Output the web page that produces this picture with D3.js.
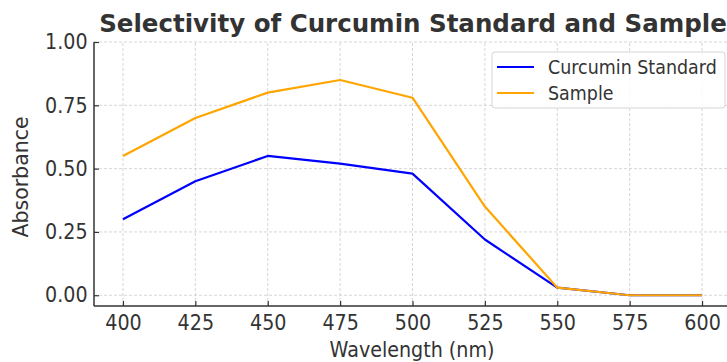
<!DOCTYPE html>
<html>
<head>
<meta charset="utf-8">
<script src="https://cdn.jsdelivr.net/npm/d3@7"></script>
<style>
  body { margin: 0; background: #fff; }
  text { font-family: "DejaVu Sans", sans-serif; }
</style>
</head>
<body>
<script>
// data
let wavelengths = [400, 425, 450, 475, 500, 525, 550, 575, 600];
let standardAbs = [0.30, 0.45, 0.55, 0.52, 0.48, 0.22, 0.03, 0.0, 0.0];
let sampleAbs   = [0.55, 0.70, 0.80, 0.85, 0.78, 0.35, 0.03, 0.0, 0.0];
let yTicks = [0, 0.25, 0.5, 0.75, 1.0];
let seriesNames = ["Curcumin Standard", "Sample"];
let seriesColors = ["#0000ff", "#ffa500"];

let width = 727;
let height = 362;
let margin = {top: 42, right: -4, bottom: 56, left: 94};
let squeeze = 0.91; // the reference text is a little narrow

let x = d3.scaleLinear()
          .domain([390, 610])
          .range([margin.left, width - margin.right]);

let y = d3.scaleLinear()
          .domain([-0.0425, 1.0])
          .range([height - margin.bottom, margin.top]);

let svg = d3.select("body")
            .append("svg")
            .attr("width", width)
            .attr("height", height);

// grid
svg.append("g")
   .selectAll("line")
   .data(wavelengths)
   .enter().append("line")
           .attr("x1", d => x(d)).attr("x2", d => x(d))
           .attr("y1", y.range()[0]).attr("y2", y.range()[1])
           .attr("stroke", "#cccccc").attr("stroke-width", 0.8)
           .attr("stroke-dasharray", "3,2");
svg.append("g")
   .selectAll("line")
   .data(yTicks)
   .enter().append("line")
           .attr("x1", x.range()[0]).attr("x2", x.range()[1])
           .attr("y1", d => y(d)).attr("y2", d => y(d))
           .attr("stroke", "#cccccc").attr("stroke-width", 0.8)
           .attr("stroke-dasharray", "3,2");

// axes, ticks pointing inward
let xAxis = svg.append("g")
               .attr("transform", `translate(0,${height - margin.bottom})`)
               .call(d3.axisBottom(x).tickValues(wavelengths).tickSize(-5).tickPadding(9));
let yAxis = svg.append("g")
               .attr("transform", `translate(${margin.left},0)`)
               .call(d3.axisLeft(y).tickValues(yTicks).tickFormat(d3.format(".2f")).tickSize(-5).tickPadding(7));

[xAxis, yAxis].forEach(function(a) {
  a.select(".domain").attr("stroke", "#333").attr("stroke-width", 1.5);
  a.selectAll(".tick line").attr("stroke", "#333").attr("stroke-width", 1.2);
  a.selectAll(".tick text").attr("fill", "#333").attr("font-size", 21)
   .attr("font-family", "DejaVu Sans")
   .attr("transform", `scale(${squeeze},1)`);
});
// remove the domain's end caps so only the spine remains
xAxis.select(".domain").attr("d", `M${x.range()[0]},0H${x.range()[1]}`);
yAxis.select(".domain").attr("d", `M0,${y.range()[0]}V${y.range()[1]}`);

// lines
let line = d3.line()
             .x((d, i) => x(wavelengths[i]))
             .y(d => y(d));

[standardAbs, sampleAbs].forEach(function(vals, k) {
  svg.append("path")
     .datum(vals)
     .attr("d", line)
     .attr("fill", "none")
     .attr("stroke", seriesColors[k])
     .attr("stroke-width", 2.2)
     .attr("stroke-linejoin", "round");
});

// title and axis labels
svg.append("text")
   .attr("transform", "translate(413,32)")
   .attr("text-anchor", "middle")
   .attr("font-size", 24.5).attr("font-weight", "bold")
   .attr("fill", "#333")
   .text("Selectivity of Curcumin Standard and Sample");

svg.append("text")
   .attr("transform", `translate(412,357) scale(${squeeze},1)`)
   .attr("text-anchor", "middle")
   .attr("font-size", 21).attr("fill", "#333")
   .text("Wavelength (nm)");

svg.append("text")
   .attr("transform", "translate(28,177) rotate(-90)")
   .attr("text-anchor", "middle")
   .attr("font-size", 20.5).attr("fill", "#333")
   .text("Absorbance");

// legend
let legend = svg.append("g").attr("transform", "translate(492,52)");
legend.append("rect")
      .attr("width", 233).attr("height", 56).attr("rx", 3)
      .attr("fill", "#fff").attr("fill-opacity", 0.85)
      .attr("stroke", "#d5d5d5");
seriesNames.forEach(function(name, i) {
  legend.append("line")
        .attr("x1", 5).attr("x2", 42)
        .attr("y1", 15 + i * 26).attr("y2", 15 + i * 26)
        .attr("stroke", seriesColors[i]).attr("stroke-width", 2.2);
  legend.append("text")
        .attr("transform", `translate(56,${22 + i * 26}) scale(0.92,1)`)
        .attr("font-size", 19).attr("fill", "#333")
        .text(name);
});
</script>
</body>
</html>
